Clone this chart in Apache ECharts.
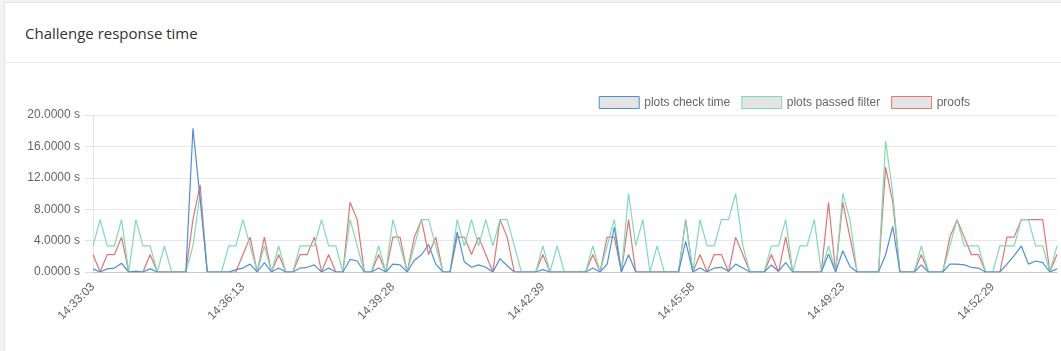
<!DOCTYPE html>
<html>
<head>
<meta charset="utf-8">
<script src="https://cdn.jsdelivr.net/npm/echarts@6/dist/echarts.min.js"></script>
<style>
  html, body { margin: 0; padding: 0; background: #f3f3f3; width: 1061px; height: 351px; overflow: hidden; }
  .card { position: absolute; left: 4px; top: 2px; width: 1070px; height: 360px; background: #fff; border: 1px solid #e3e3e3; }
  .card-head { height: 59px; border-bottom: 1px solid #e8e8e8; }
  .card-head span { position: absolute; left: 20px; top: 20px; font: 15px "Open Sans", "Noto Sans", sans-serif; color: #333; }
  #chart { position: absolute; left: 0; top: 0; width: 1061px; height: 351px; }
</style>
</head>
<body>
<div class="card"><div class="card-head"><span>Challenge response time</span></div></div>
<div id="chart"></div>
<script>
// 时间轴（每个点一次挑战）
var times = [
  '14:33:03','14:33:12','14:33:21','14:33:30','14:33:39','14:33:48','14:33:58','14:34:07','14:34:16','14:34:25',
  '14:34:34','14:34:43','14:34:52','14:35:01','14:35:10','14:35:19','14:35:28','14:35:37','14:35:46','14:35:55',
  '14:36:04','14:36:13','14:36:22','14:36:32','14:36:41','14:36:50','14:37:00','14:37:09','14:37:18','14:37:27',
  '14:37:37','14:37:46','14:37:55','14:38:04','14:38:14','14:38:23','14:38:32','14:38:41','14:38:51','14:39:00',
  '14:39:09','14:39:19','14:39:28','14:39:37','14:39:46','14:39:55','14:40:05','14:40:14','14:40:23','14:40:32',
  '14:40:41','14:40:50','14:40:59','14:41:08','14:41:17','14:41:27','14:41:36','14:41:45','14:41:54','14:42:03',
  '14:42:12','14:42:21','14:42:30','14:42:39','14:42:48','14:42:58','14:43:07','14:43:17','14:43:26','14:43:36',
  '14:43:45','14:43:55','14:44:04','14:44:14','14:44:23','14:44:33','14:44:42','14:44:52','14:45:01','14:45:11',
  '14:45:20','14:45:30','14:45:39','14:45:49','14:45:58','14:46:08','14:46:18','14:46:27','14:46:37','14:46:47',
  '14:46:57','14:47:06','14:47:16','14:47:26','14:47:36','14:47:45','14:47:55','14:48:05','14:48:15','14:48:24',
  '14:48:34','14:48:44','14:48:54','14:49:03','14:49:13','14:49:23','14:49:32','14:49:41','14:49:50','14:49:58',
  '14:50:07','14:50:16','14:50:25','14:50:34','14:50:42','14:50:51','14:51:00','14:51:09','14:51:18','14:51:27',
  '14:51:35','14:51:44','14:51:53','14:52:02','14:52:11','14:52:20','14:52:29','14:52:38','14:52:47','14:52:56',
  '14:53:05','14:53:14','14:53:23','14:53:32','14:53:41','14:53:50'
];

// plots check time (s)
var checkTime = [
  0.4, 0, 0.4, 0.5, 1.1, 0, 0.1, 0, 0.4, 0,
  0, 0, 0, 0, 18.3, 9.3, 0, 0, 0, 0,
  0.3, 0.5, 1.0, 0, 1.2, 0, 0.5, 0, 0, 0.5,
  0.6, 0.9, 0, 0.5, 0, 0, 1.6, 1.4, 0, 0,
  0.5, 0, 1.0, 0.9, 0, 1.5, 2.2, 3.5, 1.0, 0,
  0, 5.1, 1.3, 0.6, 0.9, 0.6, 0, 1.7, 0.8, 0,
  0, 0, 0, 0.3, 0, 0, 0, 0, 0, 0,
  0.5, 0, 1.0, 5.7, 0, 2.2, 0, 0, 0, 0,
  0, 0, 0, 3.9, 0, 0.5, 0, 0.5, 0.6, 0.1,
  1.0, 0.5, 0, 0, 0, 0.9, 0.1, 1.2, 0, 0,
  0, 0, 0, 2.3, 0, 2.7, 0.7, 0, 0, 0,
  0, 2.2, 5.8, 0, 0, 0, 0.9, 0, 0, 0,
  1.0, 1.0, 0.9, 0.6, 0.5, 0, 0, 0, 1.0, 2.1,
  3.3, 1.0, 1.4, 1.2, 0, 0.4
];

// plots passed filter
var passedFilter = [
  3.33, 6.67, 3.33, 3.33, 6.67, 0, 6.67, 3.33, 3.33, 0,
  3.33, 0, 0, 0, 3.33, 10, 0, 0, 0, 3.33,
  3.33, 6.67, 3.33, 0, 3.33, 0, 3.33, 0, 0, 3.33,
  3.33, 3.33, 6.67, 3.33, 3.33, 0, 6.67, 3.33, 0, 0,
  3.33, 0, 6.67, 3.33, 0, 3.33, 6.67, 6.67, 3.33, 0,
  0, 6.67, 3.33, 6.67, 3.33, 6.67, 3.33, 6.67, 6.67, 3.33,
  0, 0, 0, 3.33, 0, 3.33, 0, 0, 0, 0,
  3.33, 0, 3.33, 6.67, 0, 10, 3.33, 6.67, 0, 3.33,
  0, 0, 0, 6.67, 0, 6.67, 3.33, 3.33, 6.67, 6.67,
  10, 3.33, 0, 0, 0, 3.33, 3.33, 6.67, 0, 3.33,
  3.33, 6.67, 0, 3.33, 0, 10, 6.67, 0, 0, 0,
  0, 16.67, 10, 0, 0, 0, 3.33, 0, 0, 0,
  3.33, 6.67, 3.33, 3.33, 3.33, 0, 0, 3.33, 3.33, 3.33,
  6.67, 6.67, 3.33, 3.33, 0, 3.33
];

// proofs
var proofs = [
  2.22, 0, 2.22, 2.22, 4.44, 0, 0, 0, 2.22, 0,
  0, 0, 0, 0, 6.67, 11.11, 0, 0, 0, 0,
  0, 2.22, 4.44, 0, 4.44, 0, 2.22, 0, 0, 2.22,
  2.22, 4.44, 0, 2.22, 0, 0, 8.89, 6.67, 0, 0,
  2.22, 0, 4.44, 4.44, 0, 4.44, 6.67, 2.22, 4.44, 0,
  0, 4.44, 4.44, 2.22, 4.44, 2.22, 0, 6.67, 4.44, 0,
  0, 0, 0, 2.22, 0, 0, 0, 0, 0, 0,
  2.22, 0, 4.44, 4.44, 0, 6.67, 0, 0, 0, 0,
  0, 0, 0, 6.67, 0, 2.22, 0, 2.22, 2.22, 0,
  4.44, 2.22, 0, 0, 0, 2.22, 0, 4.44, 0, 0,
  0, 0, 0, 8.89, 0, 8.89, 4.44, 0, 0, 0,
  0, 13.33, 8.89, 0, 0, 0, 2.22, 0, 0, 0,
  4.44, 6.67, 4.44, 2.22, 2.22, 0, 0, 0, 4.44, 4.44,
  6.67, 6.67, 6.67, 6.67, 0, 2.22
];

var names = ['plots check time', 'plots passed filter', 'proofs'];
var colors = ['#4f8fda', '#7fdbb6', '#e57373'];

var chart = echarts.init(document.getElementById('chart'));
var font = '"Liberation Sans", Arial, sans-serif';

var option = {
    animation: false,
    legend: {
        right: 86,
        top: 91,
        icon: 'rect',
        itemWidth: 40,
        itemHeight: 12,
        itemGap: 11,
        textStyle: { color: '#666', fontSize: 12, fontFamily: font },
        data: names.map(function (n, i) {
            return { name: n, itemStyle: { color: '#e4e4e4', borderColor: colors[i], borderWidth: 1 } };
        })
    },
    grid: { left: 93, right: 4, top: 115, bottom: 79 },
    xAxis: {
        type: 'category',
        boundaryGap: false,
        data: times,
        axisLine: { lineStyle: { color: '#c8c8c8' } },
        axisTick: { show: false },
        axisLabel: { interval: 20, rotate: 45, margin: 13, color: '#666', fontSize: 12, fontFamily: font },
        splitLine: { show: false }
    },
    yAxis: {
        type: 'value',
        min: 0,
        max: 20,
        interval: 4,
        axisLine: { show: true, lineStyle: { color: '#e4e4e4' } },
        axisTick: { show: true, length: 8, lineStyle: { color: '#e0e0e0' } },
        axisLabel: {
            margin: 13, color: '#666', fontSize: 12, fontFamily: font,
            formatter: function (v) { return v.toFixed(4) + ' s'; }
        },
        splitLine: { lineStyle: { color: '#e8e8e8' } }
    },
    series: [
        { name: names[0], type: 'line', data: checkTime, z: 4, showSymbol: false, color: colors[0], lineStyle: { width: 1.2 } },
        { name: names[1], type: 'line', data: passedFilter, z: 3, showSymbol: false, color: colors[1], lineStyle: { width: 1.2 } },
        { name: names[2], type: 'line', data: proofs, z: 2, showSymbol: false, color: colors[2], lineStyle: { width: 1.2 } }
    ]
};

chart.setOption(option);
</script>
</body>
</html>
